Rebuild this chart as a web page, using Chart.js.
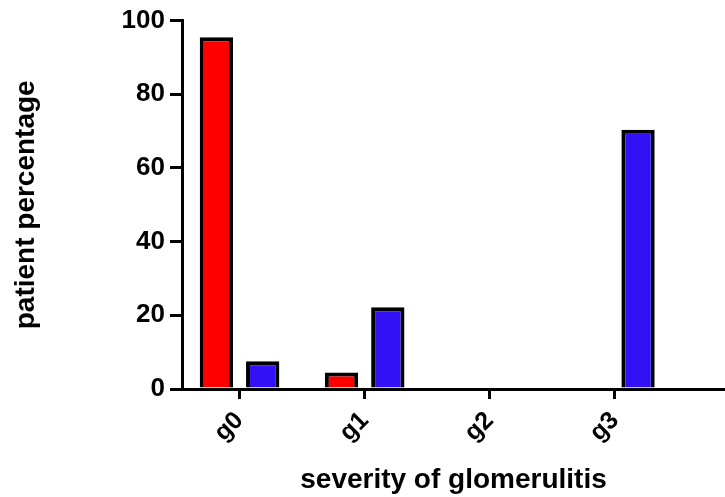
<!DOCTYPE html>
<html>
<head>
<meta charset="utf-8">
<script src="https://cdn.jsdelivr.net/npm/chart.js@4/dist/chart.umd.min.js"></script>
<style>
  html, body { margin: 0; padding: 0; background: #fff; }
  #wrap { width: 725px; height: 497px; }
</style>
</head>
<body>
<div id="wrap"><canvas id="chart" width="725" height="497"></canvas></div>
<script>
// grades along the x axis
const grades = ["g0", "g1", "g2", "g3"];
// percentage of patients per grade, two groups
const redGroup = [95.5, 4.5, 0, 0];
const blueGroup = [7.5, 22.2, 0, 70.4];
const yTicks = [0, 20, 40, 60, 80, 100];

const font = { family: "'Liberation Sans', Arial, sans-serif", weight: "bold" };

new Chart(document.getElementById("chart"), {
    type: "bar",
    data: {
        datasets: [{
            data: redGroup.map((v, i) => ({ x: i, y: v })),
            backgroundColor: "#ff0000",
            borderColor: "#000",
            borderWidth: 4,
            borderSkipped: "start"
        }, {
            data: blueGroup.map((v, i) => ({ x: i, y: v })),
            backgroundColor: "#3311f5",
            borderColor: "#000",
            borderWidth: 4,
            borderSkipped: "start"
        }]
    },
    options: {
        responsive: false,
        animation: false,
        categoryPercentage: 0.74,
        barPercentage: 0.72,
        layout: { padding: { top: 20, right: 0, left: 0, bottom: 0 } },
        plugins: { legend: { display: false }, tooltip: { enabled: false } },
        scales: {
            x: {
                type: "linear",
                offset: false,
                min: -0.46,
                max: 3.88,
                grid: { offset: false, drawOnChartArea: false, drawTicks: true, tickLength: 10, lineWidth: 3, color: "#000" },
                border: { display: true, width: 3, color: "#000" },
                ticks: {
                    stepSize: 1,
                    includeBounds: false,
                    autoSkip: false,
                    minRotation: 45,
                    maxRotation: 45,
                    padding: 7,
                    color: "#000",
                    font: { ...font, size: 25 },
                    callback: v => grades[v] ?? ""
                },
                title: {
                    display: true,
                    text: "severity of glomerulitis",
                    color: "#000",
                    font: { ...font, size: 28 },
                    padding: { top: 0, bottom: 0 }
                },
                afterFit: s => { s.height = 108; }
            },
            y: {
                min: 0,
                max: 100,
                afterBuildTicks: s => { s.ticks = yTicks.map(v => ({ value: v })); },
                grid: { drawOnChartArea: false, drawTicks: true, tickLength: 12, lineWidth: 3, color: "#000" },
                border: { display: true, width: 3, color: "#000" },
                ticks: {
                    padding: 5,
                    color: "#000",
                    font: { ...font, size: 26 }
                },
                title: {
                    display: true,
                    text: "patient percentage",
                    color: "#000",
                    font: { ...font, size: 28 },
                    padding: { top: 9, bottom: 0 }
                },
                afterFit: s => { s.width = 182; }
            }
        }
    }
});
</script>
</body>
</html>
